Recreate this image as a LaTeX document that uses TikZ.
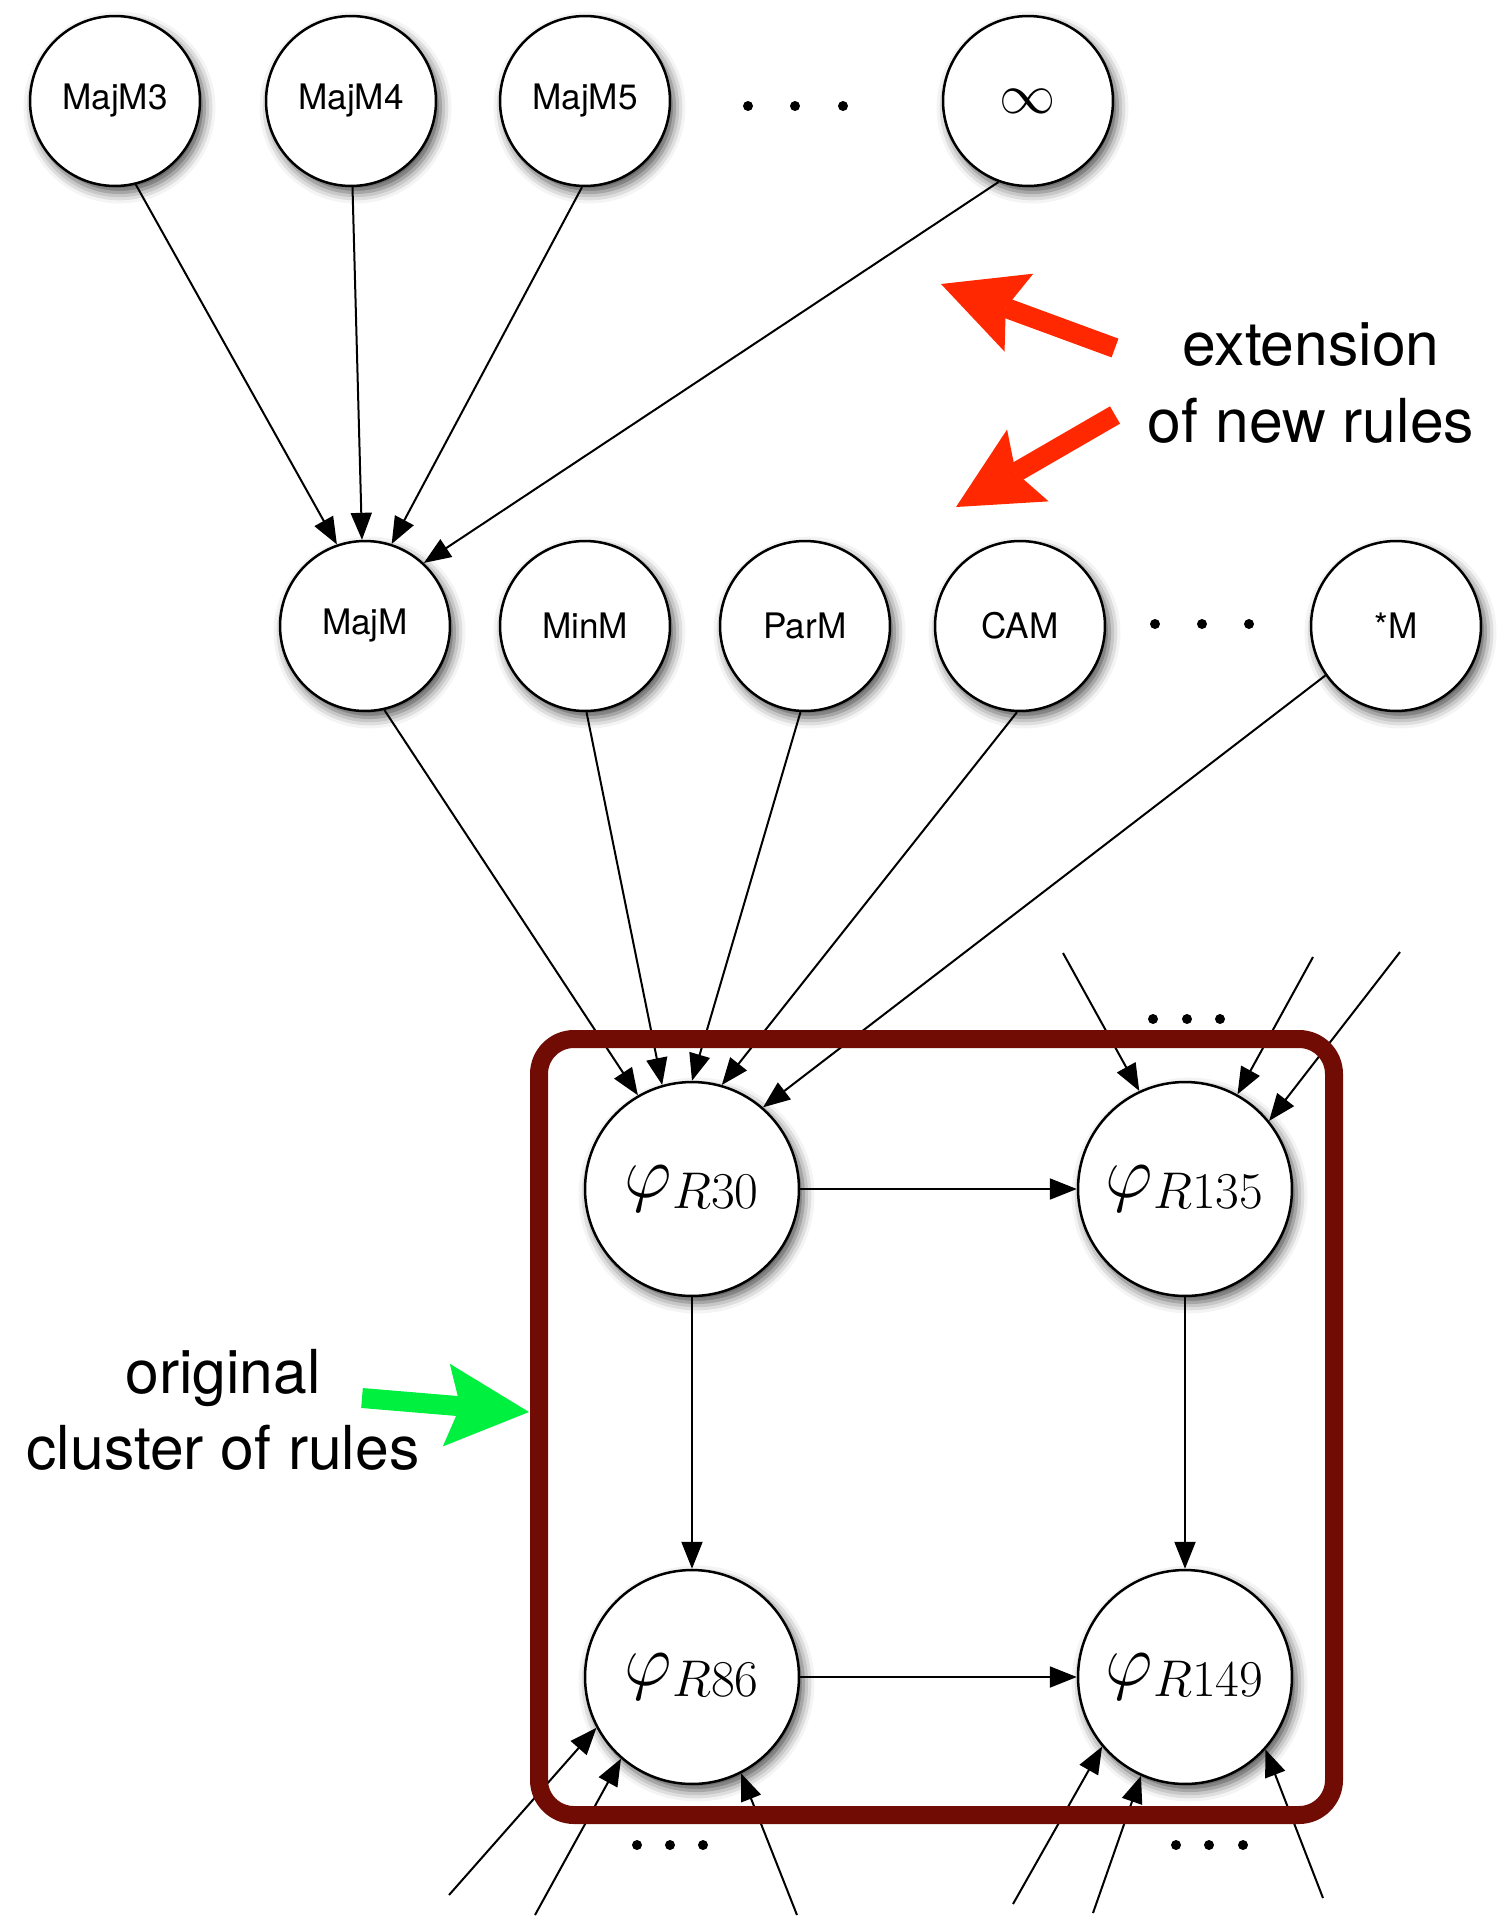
\RequirePackage{fix-cm}
\documentclass[tikz,border=0pt]{standalone}
\usepackage[no-math]{fontspec}
\setmainfont{TeX Gyre Heros}
\usepackage{amsmath}
\usepackage{xcolor}
\usetikzlibrary{arrows.meta, shadows.blur}
\definecolor{clusterred}{RGB}{112,12,4}
\definecolor{pointred}{RGB}{255,40,0}
\definecolor{pointgreen}{RGB}{0,240,64}

\tikzset{
    rulenode/.style={draw, circle, fill=white, line width=0.05cm, minimum size=3.4cm, inner sep=0pt,
        font=\fontsize{20}{24}\selectfont,
        blur shadow={shadow xshift=0.09cm, shadow yshift=-0.13cm, shadow blur radius=0.22cm, shadow opacity=70}},
    phinode/.style={rulenode, minimum size=4.28cm, font=\fontsize{42}{50}\selectfont},
    rulearrow/.style={-{Triangle[length=0.54cm,width=0.42cm]}, line width=0.04cm},
    bigarrow/.style={-{Stealth[length=1.66cm,width=1.66cm,inset=0.28cm,line width=0pt]}, line width=0.4cm},
    note/.style={align=center, font=\fontsize{34.5}{43.5}\selectfont}
}

\begin{document}
\begin{tikzpicture}[x=0.02cm, y=-0.02cm]
    \useasboundingbox (0,0) rectangle (1501,1917);

    % Extension rules
    \node[rulenode] (m3) at (115,101) {MajM3};
    \node[rulenode] (m4) at (351,101) {MajM4};
    \node[rulenode] (m5) at (585,101) {MajM5};
    \node[rulenode, font=\fontsize{32}{38}\selectfont] (minf) at (1028,101) {$\infty$};

    % Rule families
    \node[rulenode] (majm) at (365,626) {MajM};
    \node[rulenode] (minm) at (585,626) {MinM};
    \node[rulenode] (parm) at (805,626) {ParM};
    \node[rulenode] (cam) at (1020,626) {CAM};
    \node[rulenode] (starm) at (1396,626) {*M};

    % Original cluster
    \node[phinode] (r30) at (692,1189) {$\varphi_{R30}$};
    \node[phinode] (r135) at (1185,1189) {$\varphi_{R135}$};
    \node[phinode] (r86) at (692,1677) {$\varphi_{R86}$};
    \node[phinode] (r149) at (1185,1677) {$\varphi_{R149}$};

    % Dots
    \foreach \x in {748,795,843} \fill (\x,106) circle (0.1cm);
    \foreach \x in {1155,1202,1249} \fill (\x,624) circle (0.1cm);
    \foreach \x in {1153,1187,1220} \fill (\x,1019) circle (0.1cm);
    \foreach \x in {637,670,703} \fill (\x,1845) circle (0.1cm);
    \foreach \x in {1176,1209,1243} \fill (\x,1845) circle (0.1cm);

    % Edges into MajM
    \draw[rulearrow] (m3.-76) -- (majm.109);
    \draw[rulearrow] (m4.-89) -- (majm.92);
    \draw[rulearrow] (m5.-92) -- (majm.72);
    \draw[rulearrow] (minf.-110) -- (majm.47);

    % Edges into R30
    \draw[rulearrow] (majm.-77) -- (r30.120);
    \draw[rulearrow] (minm.-89) -- (r30.106);
    \draw[rulearrow] (parm.-93) -- (r30.90);
    \draw[rulearrow] (cam.-92) -- (r30.74);
    \draw[rulearrow] (starm.-145) -- (r30.49);

    % Cluster edges
    \draw[rulearrow] (r30) -- (r135);
    \draw[rulearrow] (r30) -- (r86);
    \draw[rulearrow] (r135) -- (r149);
    \draw[rulearrow] (r86) -- (r149);

    % Open ends
    \coordinate (a1) at (1063,953);
    \coordinate (a2) at (1313,957);
    \coordinate (a3) at (1400,952);
    \draw[rulearrow] (a1) -- (r135.115);
    \draw[rulearrow] (a2) -- (r135.61);
    \draw[rulearrow] (a3) -- (r135.39);
    \coordinate (b1) at (449,1895);
    \coordinate (b2) at (535,1915);
    \coordinate (b3) at (797,1915);
    \draw[rulearrow] (b1) -- (r86.-152);
    \draw[rulearrow] (b2) -- (r86.-131);
    \draw[rulearrow] (b3) -- (r86.-63);
    \coordinate (c1) at (1013,1904);
    \coordinate (c2) at (1093,1913);
    \coordinate (c3) at (1323,1898);
    \draw[rulearrow] (c1) -- (r149.-140);
    \draw[rulearrow] (c2) -- (r149.-114);
    \draw[rulearrow] (c3) -- (r149.-42);

    % Cluster frame
    \draw[clusterred, line width=0.36cm, rounded corners=0.7cm] (539,1039) rectangle (1334,1815);

    % Notes
    \node[note] (ext) at (1311,383) {extension\\of new rules};
    \node[note] (orig) at (223,1410) {original\\cluster of rules};
    \coordinate (extup) at (1115,348);
    \coordinate (extuptip) at (941,284);
    \coordinate (extdown) at (1115,415);
    \coordinate (extdowntip) at (956,507);
    \coordinate (origtail) at (362,1398);
    \coordinate (origtip) at (529,1412);
    \draw[bigarrow, pointred] (extup) -- (extuptip);
    \draw[bigarrow, pointred] (extdown) -- (extdowntip);
    \draw[bigarrow, pointgreen] (origtail) -- (origtip);
\end{tikzpicture}
\end{document}
